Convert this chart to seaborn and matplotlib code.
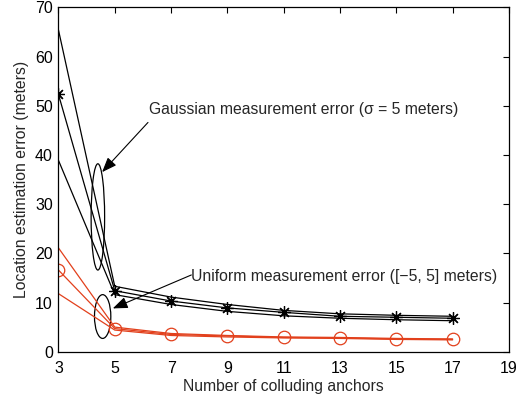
import matplotlib
matplotlib.use("Agg")
import matplotlib.pyplot as plt
import seaborn as sns
import pandas as pd
from matplotlib.patches import Ellipse

sns.set_style("white")
plt.rcParams['font.family'] = ['Liberation Sans', 'DejaVu Sans']

anchors = [3, 5, 7, 9, 11, 13, 15, 17]
gauss_upper = [65.4, 13.3, 11.1, 9.6, 8.4, 7.7, 7.4, 7.2]
gauss_mid = [52.3, 12.4, 10.3, 8.9, 8.0, 7.2, 7.0, 6.8]
gauss_lower = [38.9, 11.6, 9.6, 8.2, 7.3, 6.8, 6.5, 6.3]
unif_upper = [21.1, 5.0, 3.7, 3.3, 3.0, 2.9, 2.7, 2.6]
unif_mid = [16.6, 4.7, 3.5, 3.2, 2.9, 2.8, 2.6, 2.5]
unif_lower = [11.8, 4.4, 3.3, 3.0, 2.8, 2.7, 2.5, 2.4]
x_ticks = [3, 5, 7, 9, 11, 13, 15, 17, 19]
y_ticks = [0, 10, 20, 30, 40, 50, 60, 70]

red = '#e2401c'

fig = plt.figure(figsize=(5.29, 3.98), dpi=100)
ax = fig.add_axes([0.1105, 0.1163, 0.8515, 0.8653])

series = [
    (gauss_upper, 'black', None),
    (gauss_mid, 'black', (8, 2, 0)),
    (gauss_lower, 'black', None),
    (unif_upper, red, None),
    (unif_mid, red, 'o'),
    (unif_lower, red, None),
]
for vals, col, mk in series:
    df = pd.DataFrame({'x': anchors, 'y': vals})
    if mk is None:
        sns.lineplot(data=df, x='x', y='y', ax=ax, color=col, lw=0.9,
                     estimator=None, sort=False)
    elif mk == 'o':
        sns.lineplot(data=df, x='x', y='y', ax=ax, color=col, lw=0.9,
                     estimator=None, sort=False, marker='o', markersize=9,
                     markerfacecolor='none', markeredgecolor=col, markeredgewidth=0.9)
    else:
        sns.lineplot(data=df, x='x', y='y', ax=ax, color=col, lw=0.9,
                     estimator=None, sort=False, marker=mk, markersize=9,
                     markeredgecolor=col, markeredgewidth=0.9)

ax.set_xlim(3, 19)
ax.set_ylim(0, 70)
ax.set_xticks(x_ticks)
ax.set_yticks(y_ticks)
ax.tick_params(direction='in', length=4, top=True, right=True, labelsize=11.5,
               width=0.8, color='black', labelcolor='black')
ax.tick_params(axis='x', pad=6.5)
ax.tick_params(axis='y', pad=4)
for s in ax.spines.values():
    s.set_visible(True)
    s.set_color('black')
    s.set_linewidth(0.9)
ax.set_xlabel('Number of colluding anchors', fontsize=11.3, labelpad=2)
ax.set_ylabel('Location estimation error (meters)', fontsize=11.3, labelpad=4)

ax.add_patch(Ellipse((4.4, 27.4), 0.48, 21.6, fill=False, ec='black', lw=0.9))
ax.add_patch(Ellipse((4.57, 7.15), 0.58, 8.9, fill=False, ec='black', lw=0.9))

arrow = dict(arrowstyle='-|>,head_length=0.9,head_width=0.35', color='black', lw=0.8,
             shrinkA=0, shrinkB=0)
ax.annotate('', xy=(4.55, 36.5), xytext=(6.18, 46.6), arrowprops=arrow)
ax.annotate('', xy=(4.93, 8.8), xytext=(7.72, 15.6), arrowprops=arrow)
ax.text(6.2, 49.2, 'Gaussian measurement error (σ = 5 meters)', fontsize=11.3,
        va='center', ha='left')
ax.text(7.72, 15.2, 'Uniform measurement error ([\u22125, 5] meters)', fontsize=11.3,
        va='center', ha='left')

fig.savefig('out.png', dpi=100)
